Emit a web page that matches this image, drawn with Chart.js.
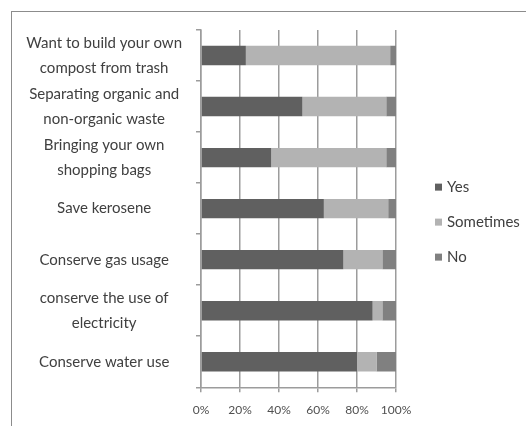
<!DOCTYPE html>
<html>
<head>
<meta charset="utf-8">
<script src="https://cdn.jsdelivr.net/npm/chart.js@4"></script>
<style>
  body { margin: 0; background: #fff; }
  #marco { position: relative; width: 526px; height: 426px; overflow: hidden; }
  #borde { position: absolute; left: 11px; top: 11px; width: 600px; height: 600px;
           border-left: 1px solid #8c8c8c; border-top: 1px solid #8c8c8c; }
  #myChart { position: absolute; left: 0; top: 0; }
</style>
</head>
<body>
<div id="marco">
  <div id="borde"></div>
  <canvas id="myChart" width="526" height="426"></canvas>
</div>
<script>
const categorias = [
  ['Want to build your own', 'compost from trash'],
  ['Separating organic and', 'non-organic waste'],
  ['Bringing your own', 'shopping bags'],
  'Save kerosene',
  'Conserve gas usage',
  ['conserve the use of', 'electricity'],
  'Conserve water use'
];
const series = ['Yes', 'Sometimes', 'No'];
const yes = [23, 52, 36, 63, 73, 88, 80];
const sometimes = [74, 43, 59, 33, 20, 5, 10];
const no = [3, 5, 5, 4, 7, 7, 10];
const colores = ['#606060', '#b3b3b3', '#808080'];

const fuente = 'Lato, "Open Sans", sans-serif';
const gris = '#9c9c9c';

window.addEventListener("load", function () {
  const ctx = document.getElementById('myChart').getContext('2d');

  // leyenda a la derecha, dibujada a mano para controlar la posicion
  const leyenda = {
    id: 'leyendaDerecha',
    afterDraw: (chart) => {
      const { ctx, chartArea } = chart;
      const x = chartArea.right + 39;
      const yCentro = (chartArea.top + chartArea.bottom) / 2 + 14;
      ctx.save();
      ctx.font = '15px ' + fuente;
      ctx.textBaseline = 'middle';
      ctx.textAlign = 'left';
      chart.data.datasets.forEach((ds, i) => {
        const y = yCentro + (i - 1) * 35;
        ctx.fillStyle = ds.backgroundColor;
        ctx.fillRect(x, y - 4, 7, 7);
        ctx.fillStyle = '#404040';
        ctx.fillText(ds.label, x + 12, y);
      });
      ctx.restore();
    }
  };

  new Chart(ctx, {
    type: 'bar',
    data: {
      labels: categorias,
      datasets: [
        { label: series[0], data: yes, backgroundColor: colores[0] },
        { label: series[1], data: sometimes, backgroundColor: colores[1] },
        { label: series[2], data: no, backgroundColor: colores[2] }
      ]
    },
    options: {
      indexAxis: 'y',
      responsive: false,
      animation: false,
      devicePixelRatio: 1,
      datasets: {
        bar: { barPercentage: 0.38, categoryPercentage: 1, borderWidth: 0 }
      },
      layout: { padding: { left: 11, top: 30, right: 130, bottom: 0 } },
      plugins: {
        legend: { display: false },
        tooltip: { enabled: false }
      },
      scales: {
        x: {
          stacked: true,
          min: 0,
          max: 100,
          afterFit: (scale) => { scale.height = 36; },
          grid: { color: gris, lineWidth: 1.5, drawTicks: true, tickLength: 5 },
          border: { color: gris, width: 1.5 },
          ticks: {
            stepSize: 20,
            padding: 11,
            color: '#505050',
            font: { family: fuente, size: 12 },
            callback: (v) => v + '%'
          }
        },
        y: {
          stacked: true,
          afterFit: (scale) => { scale.width = 190; },
          grid: { drawOnChartArea: false, drawTicks: true, tickLength: 5, color: gris, lineWidth: 1.5 },
          border: { color: gris, width: 1.5 },
          ticks: {
            padding: 14,
            crossAlign: 'center',
            color: '#404040',
            font: { family: fuente, size: 15, lineHeight: 1.65 }
          }
        }
      }
    },
    plugins: [leyenda]
  });
});
</script>
</body>
</html>
